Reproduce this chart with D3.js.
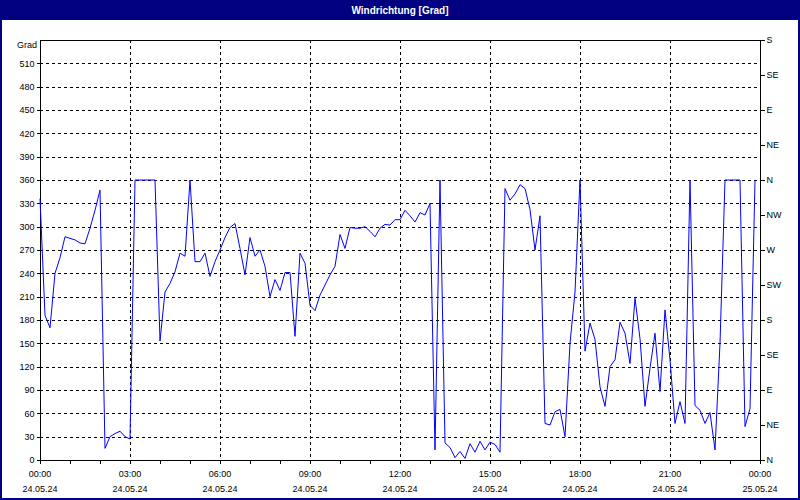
<!DOCTYPE html>
<html>
<head>
<meta charset="utf-8">
<script src="https://cdn.jsdelivr.net/npm/d3@7"></script>
<style>
  html, body { margin: 0; padding: 0; background: #ffffff; }
  svg { display: block; }
  text { font-family: "Liberation Sans", Arial, sans-serif; }
</style>
</head>
<body>
<svg id="chart" width="800" height="500"></svg>
<script>
// ---- data ----
const title = "Windrichtung [Grad]";
const yUnit = "Grad";
const startTime = "2024-05-24T00:00:00";
const endTime = "2024-05-25T00:00:00";
const stepMinutes = 10;
const direction = [
  336, 186, 170, 240, 260, 287, 285, 283, 279, 278, 298, 321, 347, 15, 30, 34, 37, 30,
  27, 360, 360, 360, 360, 360, 153, 216, 227, 242, 266, 262, 360, 255, 255, 266, 236, 255,
  270, 286, 299, 304, 272, 238, 286, 262, 270, 249, 210, 232, 218, 241, 241, 159, 266, 253,
  199, 192, 212, 225, 238, 249, 290, 272, 299, 298, 298, 300, 294, 287, 298, 303, 302, 309,
  309, 321, 314, 306, 318, 315, 330, 13, 360, 22, 16, 3, 11, 2, 21, 10, 24, 13,
  23, 20, 10, 349, 334, 342, 354, 349, 322, 270, 314, 47, 45, 62, 65, 30, 150, 216,
  360, 140, 176, 155, 94, 69, 120, 129, 177, 163, 124, 208, 156, 69, 118, 163, 88, 193,
  129, 47, 75, 47, 360, 70, 64, 47, 61, 13, 150, 360, 360, 360, 360, 43, 66, 360
];
const yTicks = [0, 30, 60, 90, 120, 150, 180, 210, 240, 270, 300, 330, 360, 390, 420, 450, 480, 510];
const compassTicks = [0, 45, 90, 135, 180, 225, 270, 315, 360, 405, 450, 495, 540];
const compassLabels = ["N", "NE", "E", "SE", "S", "SW", "W", "NW", "N", "NE", "E", "SE", "S"];
const yMax = 540;

// ---- layout ----
const W = 800, H = 500;
const L = 40, R = 760, T = 40, B = 460;
const navy = "#000080";
const fs = 9;

const svg = d3.select("#chart");
const parse = d3.isoParse;
const t0 = parse(startTime), t1 = parse(endTime);
const series = direction.map((v, i) => ({ t: d3.timeMinute.offset(t0, i * stepMinutes), v }));

const x = d3.scaleTime().domain([t0, t1]).range([L, R]);
const y = d3.scaleLinear().domain([0, yMax]).range([B, T]);

svg.append("rect").attr("width", W).attr("height", H).attr("fill", "#ffffff");

// title bar
svg.append("rect").attr("x", 0).attr("y", 0).attr("width", W).attr("height", 20).attr("fill", navy);
svg.append("text").attr("x", W / 2).attr("y", 10).attr("text-anchor", "middle")
  .attr("dominant-baseline", "central").attr("fill", "#ffffff")
  .attr("font-size", 10).attr("font-weight", "bold").text(title);

// grid
const grid = svg.append("g").attr("stroke", "#000").attr("stroke-width", 1)
  .attr("stroke-dasharray", "3,3").attr("shape-rendering", "crispEdges");
yTicks.filter(d => d > 0).forEach(d => {
  grid.append("line").attr("x1", L).attr("x2", R).attr("y1", Math.round(y(d)) + 0.5).attr("y2", Math.round(y(d)) + 0.5);
});
const hourTicks = d3.timeHour.every(1).range(t0, d3.timeMinute.offset(t1, 1));
const majorTicks = hourTicks.filter(d => d.getHours() % 3 === 0);
majorTicks.filter(d => +d !== +t0 && +d !== +t1).forEach(d => {
  grid.append("line").attr("x1", Math.round(x(d)) + 0.5).attr("x2", Math.round(x(d)) + 0.5).attr("y1", T).attr("y2", B);
});

// left axis
const gl = svg.append("g").attr("transform", `translate(${L + 0.5},0)`)
  .call(d3.axisLeft(y).tickValues(yTicks).tickSize(4).tickPadding(2).tickSizeOuter(0));
gl.select(".domain").remove();
gl.selectAll("text").attr("font-size", fs).attr("font-family", "Liberation Sans, Arial, sans-serif").attr("fill", "#000");
gl.selectAll("line").attr("shape-rendering", "crispEdges");
svg.append("text").attr("x", 37).attr("y", 45).attr("text-anchor", "end")
  .attr("dominant-baseline", "central").attr("font-size", fs).attr("fill", "#000").text(yUnit);

// right axis
const gr = svg.append("g").attr("transform", `translate(${R + 0.5},0)`)
  .call(d3.axisRight(y).tickValues(compassTicks).tickSize(4).tickPadding(2).tickSizeOuter(0)
    .tickFormat((d, i) => compassLabels[i]));
gr.select(".domain").remove();
gr.selectAll("text").attr("font-size", fs).attr("font-family", "Liberation Sans, Arial, sans-serif").attr("fill", "#000");
gr.selectAll("line").attr("shape-rendering", "crispEdges");

// bottom axis
const gb = svg.append("g").attr("transform", `translate(0,${B + 0.5})`)
  .call(d3.axisBottom(x).tickValues(hourTicks).tickSize(3).tickFormat(""));
gb.select(".domain").remove();
gb.selectAll("line").attr("shape-rendering", "crispEdges");
const fmtT = d3.timeFormat("%H:%M"), fmtD = d3.timeFormat("%d.%m.%y");
const lab = svg.append("g").attr("font-size", fs).attr("fill", "#000").attr("text-anchor", "middle");
majorTicks.forEach(d => {
  lab.append("text").attr("x", x(d)).attr("y", 474).attr("dominant-baseline", "central").text(fmtT(d));
  lab.append("text").attr("x", x(d)).attr("y", 489).attr("dominant-baseline", "central").text(fmtD(d));
});

// frame
svg.append("rect").attr("x", L + 0.5).attr("y", T + 0.5).attr("width", R - L).attr("height", B - T)
  .attr("fill", "none").attr("stroke", "#000").attr("shape-rendering", "crispEdges");

// data line
svg.append("path").datum(series)
  .attr("fill", "none").attr("stroke", "#0000ff").attr("stroke-width", 1)
  .attr("d", d3.line().x(d => x(d.t)).y(d => y(d.v)));

// outer border
svg.append("rect").attr("x", 1).attr("y", 1).attr("width", W - 2).attr("height", H - 2)
  .attr("fill", "none").attr("stroke", navy).attr("stroke-width", 2);
</script>
</body>
</html>
